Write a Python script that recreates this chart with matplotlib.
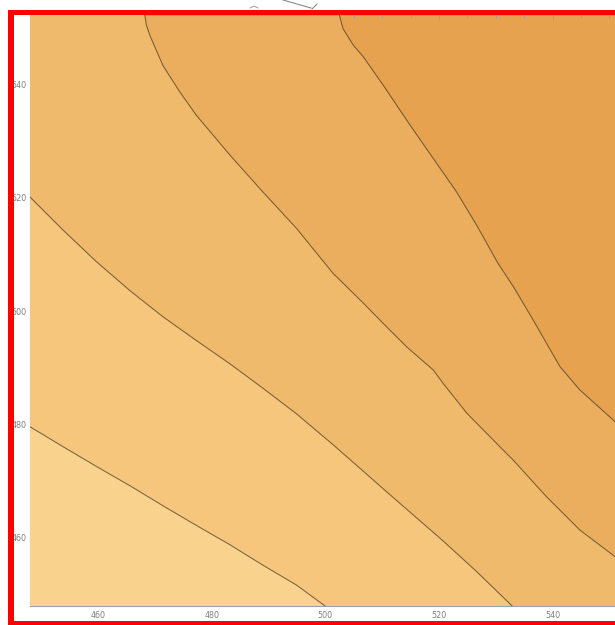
import numpy as np
import matplotlib
matplotlib.use("Agg")
from matplotlib import pyplot as plt
from matplotlib.patches import Rectangle, Polygon
from matplotlib.lines import Line2D

# contour boundaries, (x, y) pairs in data units, ordered from the light corner outwards
line1_x = [447.5, 453.8, 459.7, 465.6, 471.7, 477.3, 483.2, 489.0, 494.9, 500.5]
line1_y = [479.9, 476.1, 472.6, 469.2, 465.5, 462.2, 458.8, 455.2, 451.7, 447.6]

line2_x = [447.5, 453.8, 459.7, 465.6, 471.4, 477.3, 483.2, 489.0, 494.9, 501.4, 511.4, 520.7,
           526.6, 533.4]
line2_y = [520.6, 514.3, 508.7, 503.6, 499.0, 494.8, 490.7, 486.4, 481.9, 476.4, 467.6, 459.5,
           454.1, 447.5]

line3_x = [468.1, 468.5, 469.1, 471.4, 474.4, 477.3, 483.2, 489.0, 494.9, 501.4, 506.7, 510.2,
           514.3, 519.0, 520.7, 524.9, 530.7, 533.1, 538.9, 544.8, 551.0, 552.5]
line3_y = [552.8, 550.4, 548.6, 543.3, 538.6, 534.5, 527.5, 521.0, 514.6, 506.6, 501.4, 497.8,
           493.7, 489.6, 487.3, 482.0, 476.1, 473.7, 467.3, 461.4, 456.7, 455.6]

line4_x = [502.3, 503.1, 504.9, 506.7, 510.2, 514.9, 519.0, 523.1, 526.6, 530.4,
           533.1, 536.6, 541.3, 544.8, 551.0, 552.5]
line4_y = [552.8, 549.8, 546.9, 544.8, 539.8, 532.8, 526.9, 521.0, 515.2, 508.4,
           504.3, 498.4, 490.2, 486.1, 480.5, 479.2]

# band colours, lightest (bottom left) to darkest (top right)
band_colors = ['#F9D38D', '#F5C67B', '#EFBA6B', '#EBAE5F', '#E6A24F']

ticks = [460, 480, 500, 520, 540]

W, H = 615, 625
fig = plt.figure(figsize=(W / 100, H / 100), dpi=100, facecolor='white')


def px(x0, y0, x1, y1):
    # pixel box (top-left origin) -> figure fraction rectangle
    return x0 / W, 1 - y1 / H, (x1 - x0) / W, (y1 - y0) / H


xmin, xmax, ymin, ymax = 448, 552, 448, 552.2
ax_w = (xmax - xmin) * 5.68
ax = fig.add_axes(px(30, 15, 30 + ax_w, 606))
ax.set_xlim(xmin, xmax)
ax.set_ylim(ymin, ymax)

# darkest band fills the whole frame, lighter bands are stacked on top
ax.add_patch(Rectangle((440, 440), 120, 120, facecolor=band_colors[4], edgecolor='none', zorder=0))

lines = [(line1_x, line1_y), (line2_x, line2_y), (line3_x, line3_y), (line4_x, line4_y)]
for k in (3, 2, 1, 0):
    lx, ly = lines[k]
    pts = list(zip(lx, ly))
    # close the region round the bottom-left corner, outside the visible frame
    ex, ey = pts[-1]
    sx, sy = pts[0]
    if ex > xmax:
        tail = [(565, ey), (565, 435)]
    else:
        tail = [(ex, 435)]
    if sx < xmin:
        head = [(435, sy)]
    else:
        head = [(435, 565), (sx, 565)]
    poly = pts + tail + [(435, 435)] + head
    ax.add_patch(Polygon(poly, closed=True, facecolor=band_colors[k], edgecolor='none', zorder=5 - k))

for lx, ly in lines:
    ax.plot(lx, ly, color='#4a3a22', alpha=0.72, lw=0.75, zorder=6, solid_joinstyle='round')

ax.set_xticks(ticks)
ax.set_yticks(ticks)
ax.set_xticks(np.arange(450, 552, 5), minor=True)
ax.set_yticks(np.arange(450, 552, 5), minor=True)
ax.tick_params(which='both', direction='in', color='#9a9a9a', width=0.6,
               top=True, right=True, labelsize=5.8, labelcolor='#808080')
ax.tick_params(which='major', length=3.0)
ax.tick_params(which='minor', length=1.8)
ax.tick_params(axis='x', which='major', pad=3.8)
ax.tick_params(axis='y', which='major', pad=2.2)
for sp in ax.spines.values():
    sp.set_color('#a0a0a0')
    sp.set_linewidth(0.8)

# red frame on the left, top and bottom edges
for box in [(8, 10, 14, 625), (8, 10, 615, 15), (8, 621, 615, 625)]:
    fig.add_artist(Rectangle(px(*box)[:2], *px(*box)[2:], transform=fig.transFigure,
                             facecolor='#FF0000', edgecolor='none', zorder=10))

# leftover pointer strokes above the frame
fig.add_artist(Line2D([283 / W, 311 / W], [1 - 0 / H, 1 - 8 / H], transform=fig.transFigure,
                      color='#8a8a8a', lw=0.8))
fig.add_artist(Line2D([312 / W, 317 / W], [1 - 9 / H, 1 - 4 / H], transform=fig.transFigure,
                      color='#8a8a8a', lw=0.8))
fig.add_artist(Line2D([250 / W, 254 / W, 258 / W], [1 - 8 / H, 1 - 6 / H, 1 - 8 / H],
                      transform=fig.transFigure, color='#9a9a9a', lw=0.7))

fig.savefig('out.png', dpi=100)
